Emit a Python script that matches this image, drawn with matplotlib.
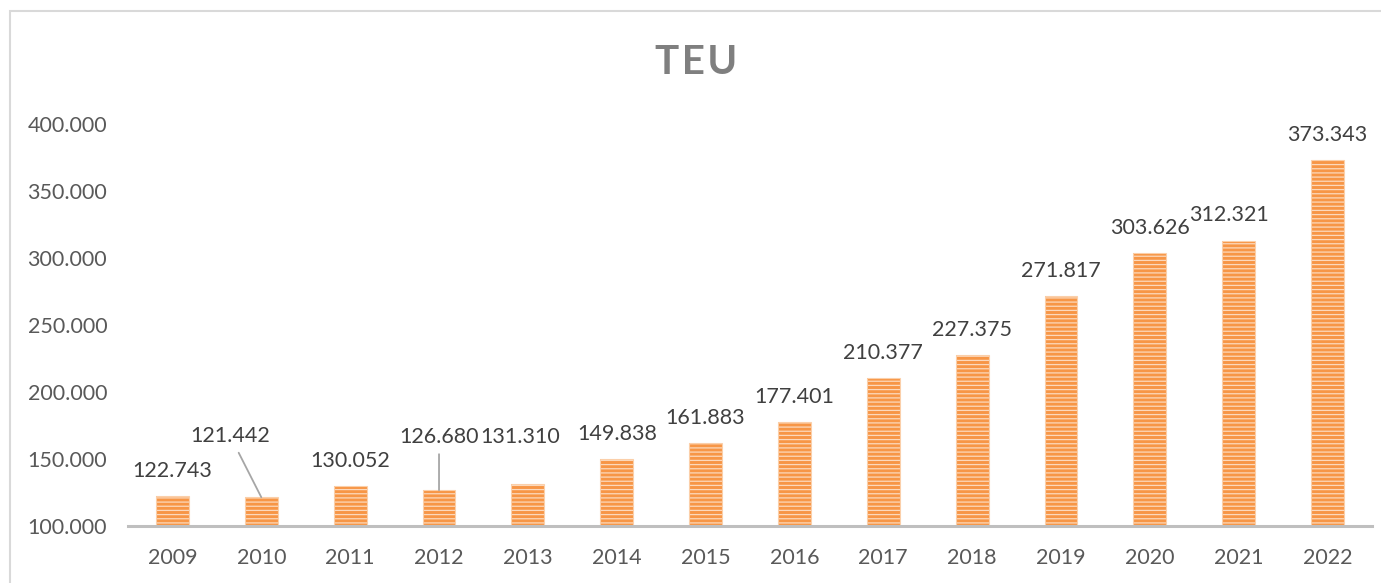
import matplotlib.pyplot as plt
from matplotlib.patches import Rectangle
from matplotlib.ticker import FuncFormatter

years = ['2009', '2010', '2011', '2012', '2013', '2014', '2015',
         '2016', '2017', '2018', '2019', '2020', '2021', '2022']
teu = [122743, 121442, 130052, 126680, 131310, 149838, 161883,
       177401, 210377, 227375, 271817, 303626, 312321, 373343]
labels = ['122.743', '121.442', '130.052', '126.680', '131.310', '149.838', '161.883',
          '177.401', '210.377', '227.375', '271.817', '303.626', '312.321', '373.343']

plt.rcParams['font.family'] = ['Lato', 'DejaVu Sans']
plt.rcParams['hatch.linewidth'] = 0.9

fig = plt.figure(figsize=(13.81, 5.83), dpi=100)
ax = fig.add_axes([0.0927, 0.0978, 0.9008, 0.6895])

# outer chart border
fig.patches.append(Rectangle((10 / 1381, -0.01), 1.1, 1 - 11 / 583 + 0.01,
                             transform=fig.transFigure, fill=False,
                             ec='#d9d9d9', lw=1.5))

xs = range(len(years))
ax.bar(xs, teu, width=0.37, color='#f79646', edgecolor='#fcd9bc',
       linewidth=0, hatch='----', zorder=2)
# thin pale outline around each bar
ax.bar(xs, teu, width=0.37, facecolor='none', edgecolor='#fbcfa9',
       linewidth=0.8, zorder=2)

ax.set_xlim(-0.5, len(years) - 0.5)
ax.set_ylim(100000, 400000)
ax.set_yticks([100000, 150000, 200000, 250000, 300000, 350000, 400000])
ax.yaxis.set_major_formatter(FuncFormatter(lambda v, p: '{:,.0f}'.format(v).replace(',', '.')))
ax.set_xticks(list(xs))
ax.set_xticklabels(years)

for s in ['top', 'right', 'left']:
    ax.spines[s].set_visible(False)
ax.spines['bottom'].set_color('#bfbfbf')
ax.spines['bottom'].set_linewidth(2.2)
ax.spines['bottom'].set_zorder(3)
ax.tick_params(axis='both', length=0, labelsize=15.5, colors='#595959')
ax.tick_params(axis='x', pad=16)
ax.tick_params(axis='y', pad=15)

# label offsets in pixels from bar top, default sits just above the bar
offsets = {1: (-31, 61), 3: (0, 53), 4: (-8, 47), 12: (-10, 26)}
leaders = {1: True, 3: True}
for i, (v, lab) in enumerate(zip(teu, labels)):
    dx, dy = offsets.get(i, (0, 25))
    if i in leaders:
        ax.annotate(lab, xy=(i, v), xytext=(dx, dy), textcoords='offset pixels',
                    ha='center', va='center', fontsize=15.5, color='#404040',
                    annotation_clip=False,
                    arrowprops=dict(arrowstyle='-', color='#a6a6a6', lw=1.3,
                                    shrinkA=3, shrinkB=0))
    else:
        ax.annotate(lab, xy=(i, v), xytext=(dx, dy), textcoords='offset pixels',
                    ha='center', va='center', fontsize=15.5, color='#404040',
                    annotation_clip=False)

fig.text(0.504, 0.893, 'T\u200aE\u200aU', ha='center', va='center', fontsize=29,
         fontweight='bold', color='#7f7f7f')

fig.savefig('out.png', dpi=100)
